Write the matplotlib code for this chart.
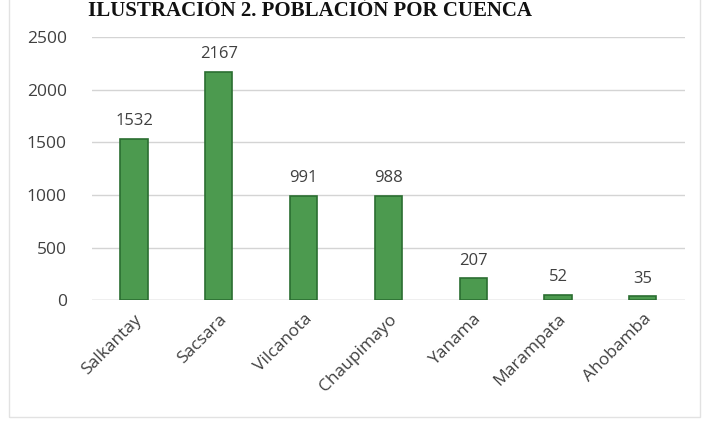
import matplotlib.pyplot as plt
from matplotlib.patches import Rectangle

# data
cuencas   = ['Salkantay', 'Sacsara', 'Vilcanota', 'Chaupimayo', 'Yanama', 'Marampata', 'Ahobamba']
poblacion = [1532, 2167, 991, 988, 207, 52, 35]
yticks    = [0, 500, 1000, 1500, 2000, 2500]
titulo    = 'ILUSTRACIÓN 2. POBLACIÓN POR CUENCA'

plt.rcParams['font.family'] = ['Open Sans', 'DejaVu Sans']

fig = plt.figure(figsize=(7.05, 4.3), dpi=100)
ax = fig.add_axes([0.130, 0.302, 0.842, 0.612])

x = range(len(cuencas))
bars = ax.bar(x, poblacion, width=0.32, color='#4c9a4f', edgecolor='#2b6e31', linewidth=1.2, zorder=3)

for b, v in zip(bars, poblacion):
    ax.annotate(str(v), (b.get_x() + b.get_width() / 2, v), xytext=(0, 7),
                textcoords='offset points', ha='center', va='bottom',
                fontsize=12, color='#404040')

ax.set_xlim(-0.5, len(cuencas) - 0.5)
ax.set_ylim(0, 2500)
ax.set_yticks(yticks)
ax.set_yticklabels([str(t) for t in yticks], fontsize=12.5, color='#404040')
ax.set_xticks(list(x))
ax.set_xticklabels(cuencas, rotation=45, ha='right', rotation_mode='anchor',
                   fontsize=12.5, color='#404040')
ax.tick_params(axis='y', length=0, pad=18)
ax.tick_params(axis='x', length=0, pad=8)
ax.yaxis.grid(True, color='#d4d4d4', linewidth=1, zorder=0)
for s in ax.spines.values():
    s.set_visible(False)
ax.axhline(0, color='#d4d4d4', linewidth=1, zorder=1)

# light frame round the chart
fig.patches.append(Rectangle((0.013, 0.03), 0.98, 1.0, transform=fig.transFigure,
                             fill=False, edgecolor='#e2e2e2', linewidth=1))

fig.text(0.44, 0.998, titulo, ha='center', va='top', fontsize=15,
         fontweight='bold', family='Liberation Serif', color='#111111')

plt.savefig('out.png', dpi=100)
